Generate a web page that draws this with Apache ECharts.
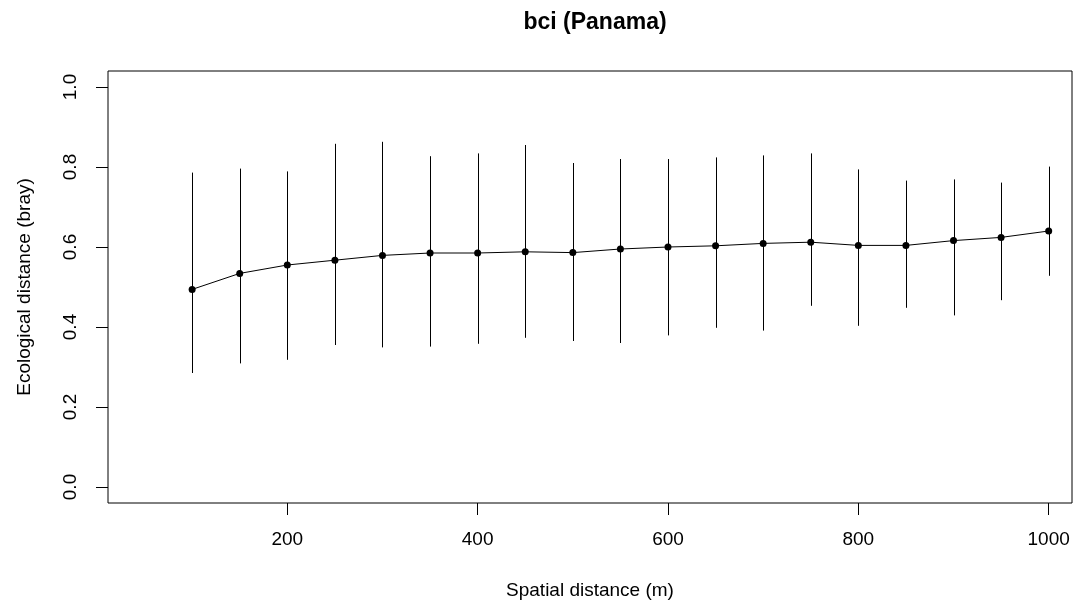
<!DOCTYPE html>
<html>
<head>
<meta charset="utf-8">
<script src="https://cdn.jsdelivr.net/npm/echarts@6/dist/echarts.min.js"></script>
<style>
html,body{margin:0;padding:0;background:#fff;}
#chart{width:1074px;height:606px;}
</style>
</head>
<body>
<div id="chart"></div>
<script>
const distances = [100,150,200,250,300,350,400,450,500,550,600,650,700,750,800,850,900,950,1000];
const meanDist  = [0.494,0.534,0.555,0.567,0.579,0.585,0.585,0.588,0.586,0.595,0.600,0.603,0.609,0.612,0.604,0.604,0.616,0.624,0.640];
const upperDist = [0.786,0.796,0.789,0.858,0.863,0.827,0.834,0.855,0.810,0.820,0.820,0.824,0.829,0.834,0.794,0.766,0.769,0.761,0.801];
const lowerDist = [0.285,0.309,0.318,0.355,0.349,0.351,0.358,0.373,0.365,0.360,0.379,0.398,0.391,0.453,0.403,0.448,0.429,0.467,0.528];
const xTicks = [200,400,600,800,1000];
const yTicks = [0,0.2,0.4,0.6,0.8,1.0];

const FONT = '"Liberation Sans", Arial, sans-serif';
const chart = echarts.init(document.getElementById('chart'), null, {renderer:'canvas'});

const linePts = distances.map((d,i)=>[d, meanDist[i]]);
const barPts = distances.map((d,i)=>[d, lowerDist[i], upperDist[i]]);

chart.setOption({
  animation:false,
  backgroundColor:'#fff',
  title:{
    text:'bci (Panama)',
    left:590, top:6, textAlign:'center',
    textStyle:{fontFamily:FONT, fontSize:23, fontWeight:'bold', color:'#000'}
  },
  grid:{left:108, right:2, top:71, bottom:103, show:true, borderColor:'#000', borderWidth:1, backgroundColor:'transparent', containLabel:false},
  xAxis:{
    type:'value', min:11.6, max:1024.5,
    name:'Spatial distance (m)', nameLocation:'middle', nameGap:78,
    nameTextStyle:{fontFamily:FONT, fontSize:19, color:'#000'},
    axisLine:{show:false, onZero:false},
    axisTick:{show:true, length:12, inside:false, customValues:xTicks, lineStyle:{color:'#000', width:1}},
    axisLabel:{customValues:xTicks, fontFamily:FONT, fontSize:19, color:'#000', margin:27, formatter:v=>String(v)},
    splitLine:{show:false}
  },
  yAxis:{
    type:'value', min:-0.04, max:1.04,
    name:'Ecological distance (bray)', nameLocation:'middle', nameGap:74, nameRotate:90,
    nameTextStyle:{fontFamily:FONT, fontSize:19, color:'#000'},
    axisLine:{show:false, onZero:false},
    axisTick:{show:true, length:12, customValues:yTicks, lineStyle:{color:'#000', width:1}},
    axisLabel:{customValues:yTicks, rotate:90, fontFamily:FONT, fontSize:19, color:'#000', margin:28,
      formatter:v=>v.toFixed(1)},
    splitLine:{show:false}
  },
  series:[
    {
      type:'custom',
      data:barPts,
      encode:{x:0, y:[1,2]},
      renderItem:function(params, api){
        const x = api.value(0);
        const p1 = api.coord([x, api.value(1)]);
        const p2 = api.coord([x, api.value(2)]);
        return {type:'line', shape:{x1:Math.round(p1[0])+0.5, y1:p1[1], x2:Math.round(p2[0])+0.5, y2:p2[1]},
          style:{stroke:'#000', lineWidth:1}};
      },
      z:1
    },
    {
      type:'line',
      data:linePts,
      symbol:'circle', symbolSize:7,
      itemStyle:{color:'#000'},
      lineStyle:{color:'#000', width:1},
      z:2
    }
  ]
});
</script>
</body>
</html>
